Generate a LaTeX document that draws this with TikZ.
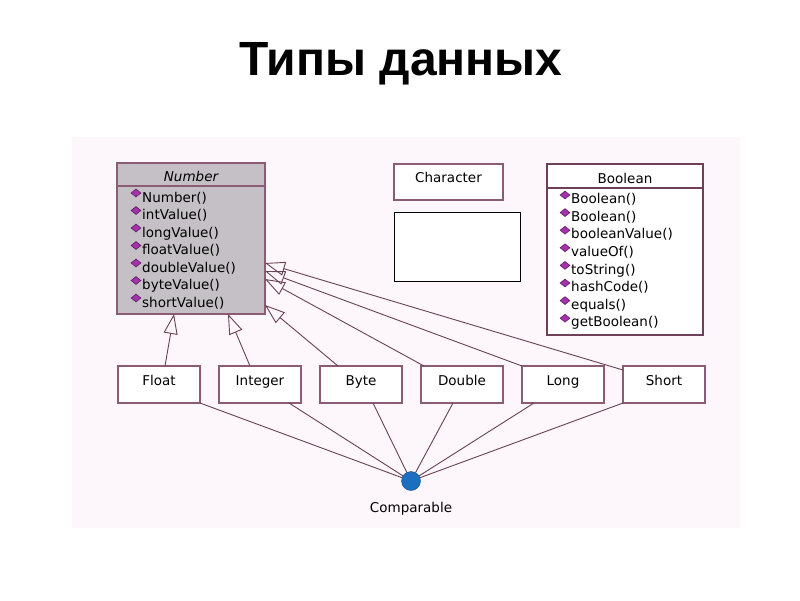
\documentclass[tikz,border=0pt]{standalone}
\usepackage{fontspec}
\setsansfont{DejaVu Sans}
\newfontfamily\titlefont{Liberation Sans}
\usetikzlibrary{positioning,arrows.meta,shapes.geometric}

\definecolor{panelbg}{RGB}{253,246,250}
\definecolor{boxframe}{RGB}{140,92,116}
\definecolor{boolframe}{RGB}{112,64,90}
\definecolor{numgray}{RGB}{196,192,197}
\definecolor{linkc}{RGB}{105,66,86}
\definecolor{iconfill}{RGB}{165,50,170}
\definecolor{icondraw}{RGB}{95,25,100}
\definecolor{compblue}{RGB}{28,110,190}

\newcommand\umlfont{\sffamily\fontsize{13.5}{16}\selectfont}

\tikzset{
  cls/.style={draw=boxframe, line width=1.6pt, fill=white, inner sep=0pt, outer sep=0pt,
    minimum width=82pt, minimum height=37pt, text height=10pt, text depth=9pt},
  bigcls/.style={line width=1.2pt, anchor=north west, inner sep=0pt, outer sep=0pt},
  meth/.style={anchor=base west, inner sep=0pt},
  icon/.style={diamond, fill=iconfill, draw=icondraw, line width=0.6pt, inner sep=0pt,
    minimum width=10pt, minimum height=8pt},
  gen/.style={draw=linkc, line width=0.9pt, -{Triangle[open, length=20pt, width=14pt]}},
  link/.style={draw=linkc, line width=0.9pt}
}

\begin{document}
\begin{tikzpicture}[x=1pt, y=-1pt, font=\umlfont]
  \useasboundingbox (0,0) rectangle (800,600);

  % Background panel
  \fill[panelbg] (72,137) rectangle (740,528);

  % Title
  \node[font=\titlefont\bfseries\fontsize{48}{52}\selectfont] (title) at (401,64) {Типы данных};

  % Number class
  \node[bigcls, draw=boxframe, fill=numgray, minimum width=148pt, minimum height=151pt] (num) at (117,163) {};
  \draw[boxframe, line width=1.2pt] ([yshift=-23pt]num.north west) -- ([yshift=-23pt]num.north east);
  \node[font=\umlfont\itshape] (numhead) at (191,176) {Number};
  \foreach \m [count=\i] in {Number(), intValue(), longValue(), floatValue(), doubleValue(), byteValue(), shortValue()} {
    \node[icon] (ni\i) at (136, {175.5+17.5*\i}) {};
    \node[meth] (nm\i) at (142, {184.5+17.5*\i}) {\m};
  }

  % Character and the empty box
  \node[cls, minimum width=109pt, minimum height=36pt, anchor=north west] (chr) at (394,164) {Character};
  \node[bigcls, draw=black, line width=1pt, fill=white, minimum width=126pt, minimum height=69pt] (blank) at (394,212) {};

  % Boolean class
  \node[bigcls, draw=boolframe, fill=white, minimum width=156pt, minimum height=171pt] (bool) at (547,164) {};
  \draw[boolframe, line width=1.2pt] ([yshift=-24pt]bool.north west) -- ([yshift=-24pt]bool.north east);
  \node (boolhead) at (625,178) {Boolean};
  \foreach \m [count=\i] in {Boolean(), Boolean(), booleanValue(), valueOf(), toString(), hashCode(), equals(), getBoolean()} {
    \node[icon] (bi\i) at (565, {177.4+17.6*\i}) {};
    \node[meth] (bm\i) at (571, {186+17.6*\i}) {\m};
  }

  % Subclasses
  \node[cls, anchor=north west] (float) at (118,366) {Float};
  \node[cls, right=19pt of float] (integer) {Integer};
  \node[cls, right=19pt of integer] (byte) {Byte};
  \node[cls, right=19pt of byte] (double) {Double};
  \node[cls, right=19pt of double] (long) {Long};
  \node[cls, right=19pt of long] (short) {Short};

  % Comparable interface
  \node[circle, fill=compblue, draw=compblue!70!black, minimum size=19pt, inner sep=0pt] (comp) at (411,481) {};
  \node (complbl) at (411,509) {Comparable};

  % Generalization to Number
  \draw[gen] ([xshift=6pt]float.north) -- ([xshift=-17pt]num.south);
  \draw[gen] ([xshift=-10pt]integer.north) -- ([xshift=37pt]num.south);
  \draw[gen] ([xshift=-23pt]byte.north) -- ([yshift=9pt]num.south east);
  \draw[gen] ([xshift=3pt]double.north west) -- ([yshift=-40.5pt]num.east);
  \draw[gen] (long.north west) -- ([yshift=-32.5pt]num.east);
  \draw[gen] ([yshift=-4pt]short.north west) -- ([yshift=-24.5pt]num.east);

  % Realization of Comparable
  \draw[link] (float.south east) -- (comp);
  \draw[link] ([xshift=29pt]integer.south) -- (comp);
  \draw[link] ([xshift=12pt]byte.south) -- (comp);
  \draw[link] ([xshift=-9pt]double.south) -- (comp);
  \draw[link] ([xshift=-29pt]long.south) -- (comp);
  \draw[link] (short.south west) -- (comp);
\end{tikzpicture}
\end{document}
